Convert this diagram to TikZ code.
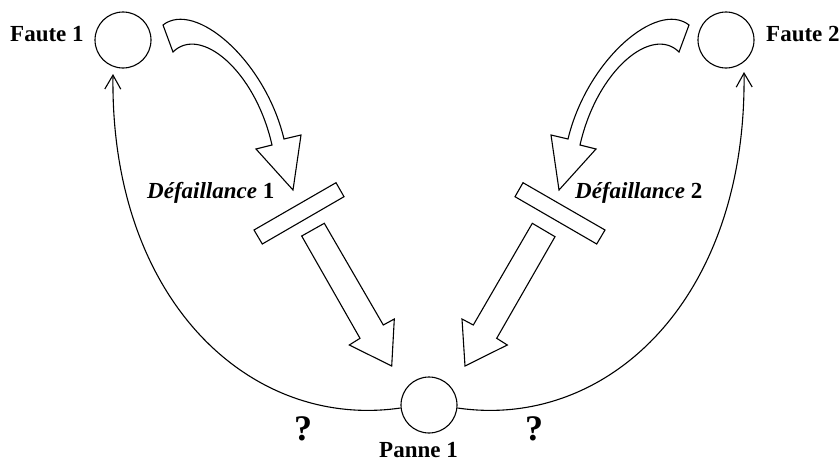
\documentclass[tikz,border=0pt]{standalone}
\usepackage{fontspec}
\setmainfont{Liberation Serif}
\usetikzlibrary{arrows.meta,calc}
\begin{document}
\begin{tikzpicture}[x=1pt,y=-1pt,
  state/.style={circle,draw,line width=1.1pt,minimum size=56pt,inner sep=0pt},
  lbl/.style={font=\fontsize{23}{26}\selectfont\bfseries,inner sep=0pt,anchor=base west},
  qm/.style={font=\fontsize{36}{40}\selectfont\bfseries,inner sep=0pt,anchor=base},
  block/.style={draw,line width=1.1pt,fill=white,line join=miter},
  thinarr/.style={line width=1.1pt,-{Straight Barb[length=14pt,width=16pt]}}
]
\useasboundingbox (0,0) rectangle (840,463);

% states
\node[state] (f1) at (123,40) {};
\node[state] (f2) at (726,40) {};
\node[state] (p1) at (429,405) {};

% labels
\node[lbl] (lf1) at (10,41) {Faute 1};
\node[lbl] (lf2) at (766,41) {Faute 2};
\node[lbl] (ld1) at (147,198) {\itshape Défaillance\/ \upshape 1};
\node[lbl] (ld2) at (575,198) {\itshape Défaillance\/ \upshape 2};
\node[lbl,anchor=base] (lp1) at (418.5,457) {Panne 1};
\node[qm] (q1) at (303,440) {?};
\node[qm] (q2) at (534,440) {?};

% thin return arrows
\coordinate (t1) at ($(f1.center)+(-10,34)$);
\coordinate (t2) at ($(f2.center)+(18,32)$);
\draw[thinarr] (p1.186) .. controls (250,430) and (110,300) .. (t1);
\draw[thinarr] (p1.354) .. controls (607,430) and (747,300) .. (t2);

% curved hollow arrows
\draw[block] (163,25) .. controls (195,0) and (265,60) .. (284,139) -- (301,135) -- (293,190) -- (256,149) -- (272,145) .. controls (255,70) and (200,25) .. (173,52) -- cycle;
\begin{scope}[xshift=852pt,xscale=-1]
\draw[block] (163,25) .. controls (195,0) and (265,60) .. (284,139) -- (301,135) -- (293,190) -- (256,149) -- (272,145) .. controls (255,70) and (200,25) .. (173,52) -- cycle;
\end{scope}

% bars
\draw[block] (254,230) -- (336,182.7) -- (344,196.7) -- (262.3,244) -- cycle;
\draw[block] (605,230) -- (523,182.7) -- (515,196.7) -- (596.7,244) -- cycle;

% straight hollow arrows
\draw[block] (301.7,236) -- (324.3,223.3) -- (383.3,325) -- (394.3,319) -- (391.7,366) -- (349.3,345) -- (360,338.3) -- cycle;
\draw[block] (555,236.7) -- (532.3,223.3) -- (473.3,325) -- (462,319) -- (465,366) -- (507.3,345) -- (496.7,338.3) -- cycle;
\end{tikzpicture}
\end{document}
